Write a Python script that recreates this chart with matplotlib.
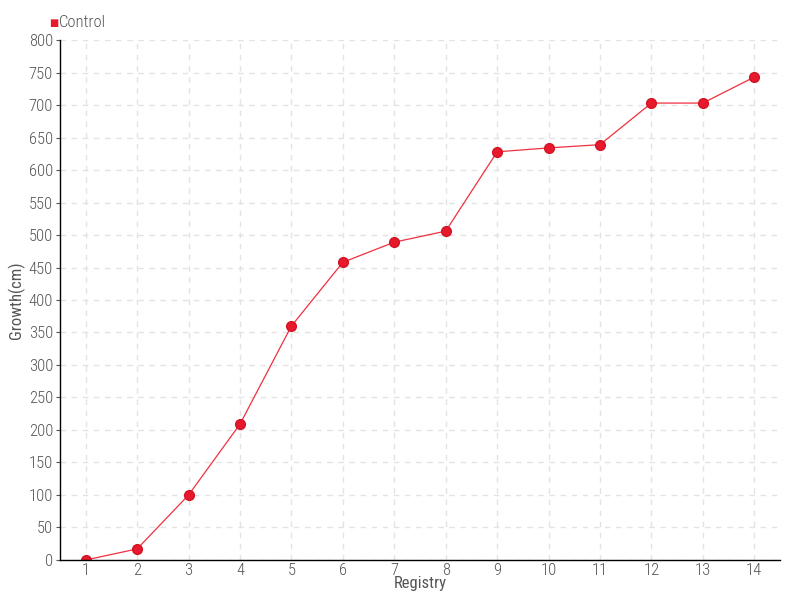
import matplotlib
matplotlib.use("Agg")
import matplotlib.pyplot as plt
from matplotlib import font_manager

# data
registry = [1, 2, 3, 4, 5, 6, 7, 8, 9, 10, 11, 12, 13, 14]
growth = [0, 17, 100, 209, 360, 458, 489, 506, 628, 634, 639, 703, 703, 743]
y_ticks = list(range(0, 801, 50))

names = {f.name for f in font_manager.fontManager.ttflist}
family = "DejaVu Sans"
for cand in ["Liberation Sans Narrow", "Roboto Condensed", "Roboto", "Liberation Sans"]:
    if cand in names:
        family = cand
        break
plt.rcParams["font.family"] = [family, "DejaVu Sans"]
plt.rcParams["font.weight"] = "light"

grey = "#555555"

fig = plt.figure(figsize=(8, 6), dpi=100)
ax = fig.add_axes([0.075, 0.0667, 0.9, 0.8666])

ax.plot(registry, growth, color="#f0303f", lw=0.9, marker="o", ms=7,
        mfc="#e8192c", mec="#d01525", label="Control")

ax.set_xlim(0.5, 14.5)
ax.set_ylim(0, 800)
ax.set_xticks(registry)
ax.set_yticks(y_ticks)
ax.grid(True, color="#e3e3e3", ls=(0, (4, 4)), lw=1)
ax.set_axisbelow(True)

for s in ["top", "right"]:
    ax.spines[s].set_visible(False)
for s in ["left", "bottom"]:
    ax.spines[s].set_color("black")
    ax.spines[s].set_linewidth(1)

ax.tick_params(axis="both", colors=grey, labelsize=12)
ax.tick_params(axis="x", length=0, pad=2)
ax.tick_params(axis="y", color=grey, direction="out", length=3, pad=2)

ax.set_xlabel("Registry", color=grey, fontsize=12, va="center")
ax.xaxis.set_label_coords(0.5, -0.046)
ax.set_ylabel("Growth(cm)", color=grey, fontsize=12, va="center")
ax.yaxis.set_label_coords(-0.061, 0.5)

fig.text(0.062, 0.962, "\u25a0", color="#e8192c", fontsize=7, va="center", ha="left",
         family=["DejaVu Sans"], weight="normal")
fig.text(0.073, 0.963, "Control", color=grey, fontsize=12, va="center", ha="left")

fig.savefig("out.png", dpi=100)
